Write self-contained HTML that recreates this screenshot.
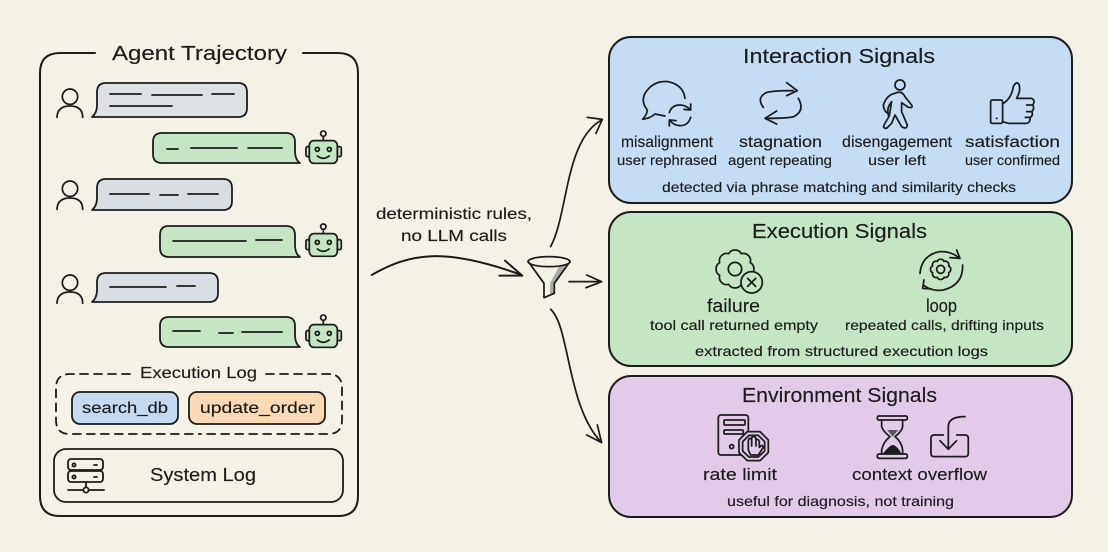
<!DOCTYPE html>
<html><head><meta charset="utf-8"><style>
html,body{margin:0;padding:0;background:#f4f1e6;width:1108px;height:552px;overflow:hidden}
svg{display:block;filter:blur(.35px)}
text{font-family:"Liberation Sans",sans-serif;fill:#1c1c1c;stroke:#1c1c1c;stroke-width:.15}
.t{font-size:20px}.l{font-size:16px}.s{font-size:14px}
.k{fill:none;stroke:#1c1c1c;stroke-width:1.8;stroke-linecap:round;stroke-linejoin:round}
.z{fill:none;stroke:#1c1c1c;stroke-width:5.2;stroke-linecap:round;stroke-linejoin:round}
</style></head><body>
<svg width="1108" height="552" viewBox="0 0 1108 552" xmlns="http://www.w3.org/2000/svg">
<defs>
<g id="robot"><rect x="828" y="350" width="12" height="30" rx="5" class="z" style="fill:#c6e5c4"/><rect x="922" y="350" width="12" height="30" rx="5" class="z" style="fill:#c6e5c4"/><rect x="838" y="332" width="84" height="68" rx="14" class="z" style="fill:#c6e5c4"/><path class="z" d="M880,320V332"/><circle cx="880" cy="311" r="8" class="z"/><circle cx="862" cy="358" r="6" class="z"/><circle cx="898" cy="358" r="6" class="z"/><path class="z" d="M862,378Q880,392 898,378"/></g>
<g id="user"><circle cx="120" cy="200" r="23" class="z"/><path class="z" d="M81,262Q82,228 120,228Q158,228 158,262"/></g>
</defs>
<rect width="1108" height="552" fill="#f4f1e6"/>

<!-- Agent trajectory -->
<path class="k" style="stroke-width:2" d="M95,53H60Q40,53 40,73V496Q40,516 60,516H338Q358,516 358,496V73Q358,53 338,53H303"/>
<text class="t" x="112" y="60" textLength="175" lengthAdjust="spacingAndGlyphs">Agent Trajectory</text>

<g transform="translate(30,30) scale(.3333)"><use href="#user"/></g>
<g transform="translate(30,122) scale(.3333)"><use href="#user"/></g>
<g transform="translate(30,216) scale(.3333)"><use href="#user"/></g>
<g transform="translate(30,30) scale(.3333)"><use href="#robot"/></g>
<g transform="translate(30,123) scale(.3333)"><use href="#robot"/></g>
<g transform="translate(30,214) scale(.3333)"><use href="#robot"/></g>

<path class="k" style="fill:#dde1e4" d="M92,117Q97,113 97,105V92Q97,83 106,83H238Q247,83 247,92V108Q247,117 238,117H106Q101,117 92,117Z"/>
<path class="k" d="M110,94H141M152,95H202M212,94H234M110,106H172"/>
<path class="k" style="fill:#c6e5c4" d="M300,163Q295,160 295,150V142Q295,133 286,133H162Q153,133 153,142V154Q153,163 162,163H288Q294,163 300,163Z"/>
<path class="k" d="M167,149H178M191,148H237M248,148H282"/>
<path class="k" style="fill:#d9dee3" d="M92,210Q97,206 97,198V188Q97,179 106,179H223Q232,179 232,188V201Q232,210 223,210H106Q101,210 92,210Z"/>
<path class="k" d="M110,194H149M160,195H178M188,194H218"/>
<path class="k" style="fill:#c6e5c4" d="M300,257Q295,254 295,244V235Q295,226 286,226H169Q160,226 160,235V248Q160,257 169,257H288Q294,257 300,257Z"/>
<path class="k" d="M173,241H246M256,240H282"/>
<path class="k" style="fill:#d9dee3" d="M92,302Q97,298 97,290V282Q97,273 106,273H209Q218,273 218,282V293Q218,302 209,302H106Q101,302 92,302Z"/>
<path class="k" d="M110,287H166M177,286H195"/>
<path class="k" style="fill:#c6e5c4" d="M300,347Q295,344 295,334V326Q295,317 286,317H169Q160,317 160,326V338Q160,347 169,347H288Q294,347 300,347Z"/>
<path class="k" d="M173,331H200M219,333H233M242,332H282"/>

<!-- Execution log -->
<path class="k" stroke-dasharray="8 6" d="M130,374H70Q56,374 56,388V420Q56,434 70,434H199"/>
<path class="k" stroke-dasharray="8 6" d="M266,374H328Q342,374 342,388V420Q342,434 328,434H199"/>
<text class="l" x="140" y="378" textLength="117" lengthAdjust="spacingAndGlyphs">Execution Log</text>
<rect class="k" style="fill:#c5daf0" x="72" y="392" width="106" height="32" rx="8"/>
<rect class="k" style="fill:#fbd9b5" x="189" y="392" width="136" height="32" rx="8"/>
<text class="l" x="82" y="413" textLength="86" lengthAdjust="spacingAndGlyphs">search_db</text>
<text class="l" x="200" y="413" textLength="115" lengthAdjust="spacingAndGlyphs">update_order</text>

<!-- System log -->
<rect class="k" x="54" y="449" width="289" height="53" rx="12"/>
<text class="l" x="150" y="481" style="font-size:18px" textLength="106" lengthAdjust="spacingAndGlyphs">System Log</text>
<g class="k"><rect x="68" y="459" width="35" height="11" rx="3"/><rect x="68" y="471" width="35" height="11" rx="3"/><path d="M86,482V487M68,490H83M89,490H104M94,465h3M94,477h3"/><circle cx="86" cy="490" r="2.6"/><circle cx="74" cy="465" r="1.6"/><circle cx="74" cy="477" r="1.6"/></g>

<!-- Arrows and funnel -->
<text class="l" x="376" y="219" textLength="156" lengthAdjust="spacingAndGlyphs">deterministic rules,</text>
<text class="l" x="401" y="241" textLength="106" lengthAdjust="spacingAndGlyphs">no LLM calls</text>
<g transform="translate(360,120) scale(.3333)">
<path class="z" style="stroke-width:6" d="M35,465C150,400 250,380 485,465M435,422L487,467H418"/>
<path d="M598,438L628,428L585,490V520L570,525V490Z" fill="#aaa"/>
<path class="z" d="M505,425L552,490V533L583,520V490L630,425"/>
<ellipse class="z" cx="567" cy="425" rx="63" ry="15"/>
<path class="z" d="M627,485H725M680,465L725,485L678,503"/>
<path class="z" d="M572,380C625,280 615,60 725,0M682,-8L727,-2L708,40"/>
<path class="z" d="M572,568C630,620 620,860 725,968M680,945L725,968L712,915"/>
</g>

<!-- Interaction -->
<rect class="k" style="fill:#c5dcf2;stroke-width:2" x="609" y="37" width="463" height="166" rx="22"/>
<text class="t" x="743" y="63" textLength="192" lengthAdjust="spacingAndGlyphs">Interaction Signals</text>
<g transform="translate(600,30) scale(.3333)">
<path class="z" d="M195,258L165,252Q150,265 128,268Q142,252 142,240Q122,215 135,190Q160,150 205,155Q250,165 255,205"/>
<path class="z" d="M208,248Q215,225 240,225Q258,225 272,240M272,222V240L252,238M272,262Q265,287 240,287Q222,287 208,270M208,288V270L228,272"/>
<path class="z" d="M490,232Q470,205 495,190Q505,182 580,182M560,158L592,182L560,197M595,205Q615,240 585,258Q575,265 500,265M530,243L495,265L530,282"/>
<circle class="z" cx="900" cy="165" r="15"/>
<path class="z" d="M885,190Q905,180 915,200L935,225Q940,235 925,232L905,218L905,245L922,285Q920,300 905,290L885,255L875,280L860,295Q845,295 855,280L868,258L875,215L868,225Q860,240 866,258M885,190Q860,195 850,225Q852,245 864,250"/>
<rect class="z" x="1172" y="210" width="36" height="70" rx="5"/>
<circle cx="1190" cy="265" r="3" fill="#1c1c1c"/>
<path class="z" d="M1208,222Q1235,205 1240,170Q1250,150 1258,165Q1262,185 1250,205H1295Q1308,212 1298,225Q1305,235 1296,245Q1300,258 1290,262Q1292,278 1280,280H1225L1208,275M1298,225H1280M1296,245H1280M1290,262H1276"/>
</g>
<text class="l" x="621" y="147" textLength="92" lengthAdjust="spacingAndGlyphs">misalignment</text>
<text class="l" x="739" y="147" textLength="83" lengthAdjust="spacingAndGlyphs">stagnation</text>
<text class="l" x="842" y="147" textLength="110" lengthAdjust="spacingAndGlyphs">disengagement</text>
<text class="l" x="965" y="147" textLength="95" lengthAdjust="spacingAndGlyphs">satisfaction</text>
<text class="s" x="617" y="165" textLength="100" lengthAdjust="spacingAndGlyphs">user rephrased</text>
<text class="s" x="728" y="165" textLength="104" lengthAdjust="spacingAndGlyphs">agent repeating</text>
<text class="s" x="868" y="165" textLength="58" lengthAdjust="spacingAndGlyphs">user left</text>
<text class="s" x="965" y="165" textLength="95" lengthAdjust="spacingAndGlyphs">user confirmed</text>
<text class="s" x="662" y="192" textLength="354" lengthAdjust="spacingAndGlyphs">detected via phrase matching and similarity checks</text>

<!-- Execution -->
<rect class="k" style="fill:#c6e5c4;stroke-width:2" x="609" y="212" width="463" height="154" rx="22"/>
<text class="t" x="752" y="238" textLength="175" lengthAdjust="spacingAndGlyphs">Execution Signals</text>
<g transform="translate(600,205) scale(.3333)">
<path class="z" d="M451,173A22,22 0 0 1 451,211A22,22 0 0 1 424,238A22,22 0 0 1 386,238A22,22 0 0 1 359,211A22,22 0 0 1 359,173A22,22 0 0 1 386,146A22,22 0 0 1 424,146A22,22 0 0 1 451,173Z"/>
<circle class="z" cx="405" cy="192" r="20"/>
<circle class="z" style="fill:#c6e5c4" cx="455" cy="232" r="32"/>
<path class="z" d="M443,220L467,244M467,220L443,244"/>
<path class="z" d="M1046,183A11,11 0 0 1 1046,203A11,11 0 0 1 1032,217A11,11 0 0 1 1012,217A11,11 0 0 1 998,203A11,11 0 0 1 998,183A11,11 0 0 1 1012,169A11,11 0 0 1 1032,169A11,11 0 0 1 1046,183Z"/>
<circle class="z" cx="1022" cy="193" r="12"/>
<path class="z" d="M960,205Q965,150 1020,140Q1055,138 1078,160M1070,135L1080,160L1050,158"/>
<path class="z" d="M1088,180Q1090,240 1030,255Q995,260 970,240M972,225L968,250L995,252"/>
</g>
<text class="l" x="707" y="312" style="font-size:18px" textLength="53" lengthAdjust="spacingAndGlyphs">failure</text>
<text class="l" x="926" y="312" style="font-size:18px" textLength="31" lengthAdjust="spacingAndGlyphs">loop</text>
<text class="s" x="650" y="330" textLength="168" lengthAdjust="spacingAndGlyphs">tool call returned empty</text>
<text class="s" x="845" y="330" textLength="199" lengthAdjust="spacingAndGlyphs">repeated calls, drifting inputs</text>
<text class="s" x="695" y="356" textLength="293" lengthAdjust="spacingAndGlyphs">extracted from structured execution logs</text>

<!-- Environment -->
<rect class="k" style="fill:#e2cbe8;stroke-width:2" x="609" y="376" width="463" height="141" rx="22"/>
<text class="t" x="742" y="402" textLength="195" lengthAdjust="spacingAndGlyphs">Environment Signals</text>
<g transform="translate(600,370) scale(.3333)">
<rect class="z" x="355" y="135" width="90" height="120" rx="8"/>
<rect class="z" x="372" y="150" width="63" height="15" rx="3"/>
<rect class="z" x="372" y="180" width="58" height="12" rx="3"/>
<circle class="z" cx="395" cy="230" r="6"/>
<path class="z" style="fill:#e2cbe8" d="M442,185H480L505,210V248L480,272H442L417,248V210Z"/>
<path class="z" d="M447,196H475L494,215V243L475,261H447L428,243V215Z"/>
<path class="z" d="M445,240V210Q450,200 455,210V203Q462,195 468,205V210Q475,205 478,215V232Q488,222 490,232L475,255H452ZM455,210V228M468,208V228"/>
<rect class="z" x="832" y="138" width="90" height="12" rx="5"/>
<rect class="z" x="832" y="252" width="90" height="13" rx="5"/>
<path class="z" d="M845,150V170Q850,185 870,200Q850,215 845,240V252M908,150V170Q905,185 885,200Q905,215 908,240V252"/>
<path d="M848,252Q870,225 878,225Q890,225 905,252Z" fill="#1c1c1c"/>
<path d="M862,180H895L878,200Z" fill="#555"/>
<path class="z" d="M1030,195H1003Q993,195 993,205V250Q993,260 1003,260H1095Q1105,260 1105,250V205Q1105,195 1095,195H1070"/>
<path class="z" d="M1095,140Q1045,140 1045,170V238M1020,212L1045,238L1070,212"/>
</g>
<text class="l" x="703" y="480" style="font-size:17px" textLength="74" lengthAdjust="spacingAndGlyphs">rate limit</text>
<text class="l" x="852" y="480" style="font-size:17px" textLength="135" lengthAdjust="spacingAndGlyphs">context overflow</text>
<text class="s" x="727" y="506" textLength="227" lengthAdjust="spacingAndGlyphs">useful for diagnosis, not training</text>
</svg>
</body></html>
